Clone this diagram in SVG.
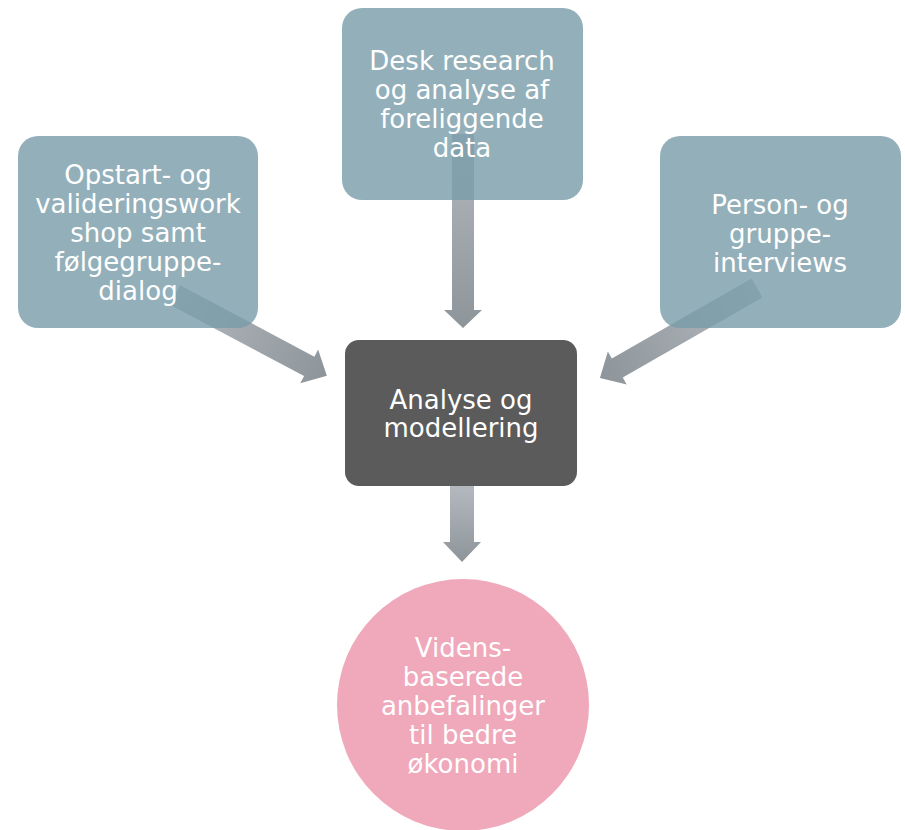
<svg xmlns="http://www.w3.org/2000/svg" width="905" height="830" viewBox="0 0 905 830">
<defs>
<style>
.box{fill:#789ca9;fill-opacity:0.8;}
.t{font-family:"DejaVu Sans",Verdana,sans-serif;font-size:26px;fill:#ffffff;text-anchor:middle;}
.arr{fill:url(#ag);}
</style>
<linearGradient id="ag" x1="0" y1="0" x2="1" y2="0">
<stop offset="0" stop-color="#b4b9be"/>
<stop offset="1" stop-color="#8d959b"/>
</linearGradient>
</defs>
<rect x="0" y="0" width="905" height="830" fill="#ffffff"/>
<g id="connectors">
<polygon class="arr" transform="translate(463,134) rotate(90)" points="0,-11 176,-11 176,-19 194,0 176,19 176,11 0,11"/>
<polygon class="arr" transform="translate(175,295) rotate(28)" points="0,-11 152,-11 152,-19 172,0 152,19 152,11 0,11"/>
<polygon class="arr" transform="translate(757,288) rotate(150.2)" points="0,-11 161,-11 161,-19 181,0 161,19 161,11 0,11"/>
<polygon class="arr" transform="translate(462,486) rotate(90)" points="0,-12 56,-12 56,-19 76,0 56,19 56,12 0,12"/>
</g>
<g id="node-desk">
<rect class="box" x="342" y="8" width="241" height="192" rx="20"/>
<text class="t" x="462" y="70">Desk research</text>
<text class="t" x="462" y="99">og analyse af</text>
<text class="t" x="462" y="128">foreliggende</text>
<text class="t" x="462" y="157">data</text>
</g>
<g id="node-opstart">
<rect class="box" x="18" y="136" width="240" height="192" rx="20"/>
<text class="t" x="138" y="184">Opstart- og</text>
<text class="t" x="138" y="213">valideringswork</text>
<text class="t" x="138" y="242">shop samt</text>
<text class="t" x="138" y="271">følgegruppe-</text>
<text class="t" x="138" y="300">dialog</text>
</g>
<g id="node-person">
<rect class="box" x="660" y="136" width="241" height="192" rx="20"/>
<text class="t" x="780" y="214">Person- og</text>
<text class="t" x="780" y="243">gruppe-</text>
<text class="t" x="780" y="272">interviews</text>
</g>
<g id="node-analyse">
<rect x="345" y="340" width="232" height="146" rx="14" fill="#5a5b5a"/>
<text class="t" x="461" y="409">Analyse og</text>
<text class="t" x="461" y="437">modellering</text>
</g>
<g id="node-videns">
<circle cx="463" cy="705" r="126" fill="#f0a8bb"/>
<text class="t" x="463" y="657">Videns-</text>
<text class="t" x="463" y="686">baserede</text>
<text class="t" x="463" y="715">anbefalinger</text>
<text class="t" x="463" y="744">til bedre</text>
<text class="t" x="463" y="773">økonomi</text>
</g>
</svg>
